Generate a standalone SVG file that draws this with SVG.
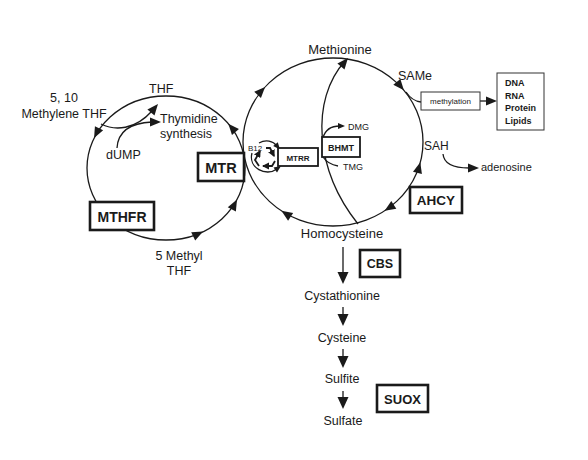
<svg xmlns="http://www.w3.org/2000/svg" xmlns:xlink="http://www.w3.org/1999/xlink" width="588" height="460" viewBox="0 0 588 460">
<style>
text{font-family:"Liberation Sans",Arial,sans-serif;fill:#1a1a1a}
.lbl{font-size:12.5px}
.sm{font-size:9px}
.b{font-weight:bold}
.ln{fill:none;stroke:#1a1a1a;stroke-width:1.3}
.box{fill:#fff;stroke:#1a1a1a;stroke-width:2.6}
.box2{fill:#fff;stroke:#1a1a1a;stroke-width:1.8}
.box1{fill:#fff;stroke:#333;stroke-width:1}
.ah{fill:#1a1a1a}
</style>
<defs>
<path id="ah" d="M0,0 L-11,-4.6 L-11,4.6 Z"/>
<path id="ahs" d="M0,0 L-7,-3 L-7,3 Z"/>
<path id="ahv" d="M0,0 L-12,-5.5 L-12,5.5 Z"/>
<marker id="mk" viewBox="0 0 6 6" refX="5" refY="3" markerWidth="4" markerHeight="4" orient="auto"><path d="M0,0 L6,3 L0,6 Z" fill="#1a1a1a"/></marker>
</defs>
<rect width="588" height="460" fill="#fff"/>
<g id="connectors">
<ellipse class="ln" cx="166" cy="168" rx="79" ry="72"/>
<ellipse class="ln" cx="333" cy="142" rx="90" ry="84"/>
<path class="ln" d="M358,224 C315,170 310,100 345,61"/>
<path class="ln" d="M323,138 C325,130 331,126 340,126"/>
<path class="ln" d="M323,157 C327,163 332,165 338,166"/>
<path class="ln" d="M101,124 C115,131 135,130 152,111"/>
<path class="ln" d="M117,148 C118,132 130,123 152,122"/>
<path class="ln" d="M443,154 C444,165 455,168 469,168"/>
<path class="ln" d="M406,92 Q412,101 421,102"/>
<path class="ln" d="M480,101 L488,101"/>
<path class="ln" d="M343,247 L343,273"/>
<path class="ln" d="M343,307 L343,315"/>
<path class="ln" d="M343,349 L343,357"/>
<path class="ln" d="M343,391 L343,398"/>
<path class="ln" d="M259,143 C266,139 273,141 277,146"/>
<path class="ln" d="M252,153 C248,168 266,177 277,169"/>
<g class="ah">
<use xlink:href="#ah" transform="translate(228.3,123.7) rotate(-130.7)"/>
<use xlink:href="#ah" transform="translate(94.1,138.1) rotate(116.6)"/>
<use xlink:href="#ah" transform="translate(203.1,231.6) rotate(-25.8)"/>
<use xlink:href="#ah" transform="translate(237,199.6) rotate(-61.9)"/>
<use xlink:href="#ah" transform="translate(265.1,86.9) rotate(-47)"/>
<use xlink:href="#ah" transform="translate(403.9,90.3) rotate(50)"/>
<use xlink:href="#ah" transform="translate(420.3,162.3) rotate(-75)"/>
<use xlink:href="#ah" transform="translate(384.6,210.8) rotate(146.8)"/>
<use xlink:href="#ah" transform="translate(281.4,210.8) rotate(-146.8)"/>
<use xlink:href="#ah" transform="translate(348,58) rotate(-50)"/>
<use xlink:href="#ahs" transform="translate(345,126) rotate(0)"/>
<use xlink:href="#ah" transform="translate(158,104) rotate(-50)"/>
<use xlink:href="#ah" transform="translate(161,122) rotate(0)"/>
<use xlink:href="#ah" transform="translate(479,168) rotate(0)"/>
<use xlink:href="#ah" transform="translate(497,101) rotate(0)"/>
<use xlink:href="#ahv" transform="translate(343,284) rotate(90)"/>
<use xlink:href="#ahv" transform="translate(343,326) rotate(90)"/>
<use xlink:href="#ahv" transform="translate(343,368) rotate(90)"/>
<use xlink:href="#ahv" transform="translate(343,409) rotate(90)"/>
<use xlink:href="#ahs" transform="translate(280,149.5) rotate(50)"/>
<use xlink:href="#ahs" transform="translate(281,166) rotate(-35)"/>
</g>
<g fill="none" stroke="#1a1a1a" stroke-width="1.8" marker-end="url(#mk)">
<path d="M259,166 L255,160 L260,151"/>
<path d="M266,148 L270,148 L274,156"/>
<path d="M275,161 L272,166 L263,166"/>
</g>
</g>
<g id="n-thf"><text class="lbl" x="149" y="93">THF</text></g>
<g id="n-methylene"><text class="lbl" x="64" y="102" text-anchor="middle">5, 10</text><text class="lbl" x="64" y="118" text-anchor="middle">Methylene THF</text></g>
<g id="n-thymidine"><text class="lbl" x="160" y="123">Thymidine</text><text class="lbl" x="160" y="138">synthesis</text></g>
<g id="n-dump"><text class="lbl" x="106" y="159">dUMP</text></g>
<g id="n-5methyl"><text class="lbl" x="179" y="260" text-anchor="middle">5 Methyl</text><text class="lbl" x="179" y="275" text-anchor="middle">THF</text></g>
<g id="n-mthfr"><rect class="box" x="90" y="202" width="64" height="28"/><text x="122" y="221.5" text-anchor="middle" class="b" font-size="14">MTHFR</text></g>
<g id="n-mtr"><rect class="box" x="198" y="153" width="46" height="28"/><text x="221" y="172.5" text-anchor="middle" class="b" font-size="14.5">MTR</text></g>
<g id="n-b12"><text x="248" y="151" font-size="8">B12</text></g>
<g id="n-mtrr"><rect class="box2" x="278" y="148" width="40" height="18"/><text x="298" y="160.5" text-anchor="middle" class="b" font-size="8">MTRR</text></g>
<g id="n-bhmt"><rect class="box2" x="322" y="137" width="38" height="20"/><text x="341" y="150.5" text-anchor="middle" class="b" font-size="9">BHMT</text></g>
<g id="n-dmg"><text class="sm" x="348" y="130">DMG</text></g>
<g id="n-tmg"><text class="sm" x="343" y="170">TMG</text></g>
<g id="n-methionine"><text x="340" y="54" text-anchor="middle" font-size="13">Methionine</text></g>
<g id="n-same"><text class="lbl" x="398" y="80">SAMe</text></g>
<g id="n-methylation"><rect class="box1" x="421" y="92" width="59" height="18"/><text x="450.5" y="104" text-anchor="middle" font-size="8">methylation</text></g>
<g id="n-dna"><rect class="box1" x="497" y="73" width="47" height="57"/><text x="505" y="86" class="b" font-size="9">DNA</text><text x="505" y="98.5" class="b" font-size="9">RNA</text><text x="505" y="111" class="b" font-size="9">Protein</text><text x="505" y="123.5" class="b" font-size="9">Lipids</text></g>
<g id="n-sah"><text x="424" y="150" font-size="12">SAH</text></g>
<g id="n-adenosine"><text x="481" y="171" font-size="11">adenosine</text></g>
<g id="n-ahcy"><rect class="box" x="410" y="187" width="52" height="26"/><text x="436" y="205" text-anchor="middle" class="b" font-size="13.5">AHCY</text></g>
<g id="n-homocysteine"><text x="342" y="238" text-anchor="middle" font-size="13">Homocysteine</text></g>
<g id="n-cbs"><rect class="box" x="360" y="250" width="40" height="27"/><text x="380" y="268" text-anchor="middle" class="b" font-size="12.5">CBS</text></g>
<g id="n-cystathionine"><text class="lbl" x="342" y="300" text-anchor="middle">Cystathionine</text></g>
<g id="n-cysteine"><text class="lbl" x="342" y="342" text-anchor="middle">Cysteine</text></g>
<g id="n-sulfite"><text class="lbl" x="342" y="383" text-anchor="middle">Sulfite</text></g>
<g id="n-suox"><rect class="box" x="377" y="385" width="51" height="27"/><text x="402.5" y="403.5" text-anchor="middle" class="b" font-size="13">SUOX</text></g>
<g id="n-sulfate"><text class="lbl" x="343" y="425" text-anchor="middle">Sulfate</text></g>
</svg>
